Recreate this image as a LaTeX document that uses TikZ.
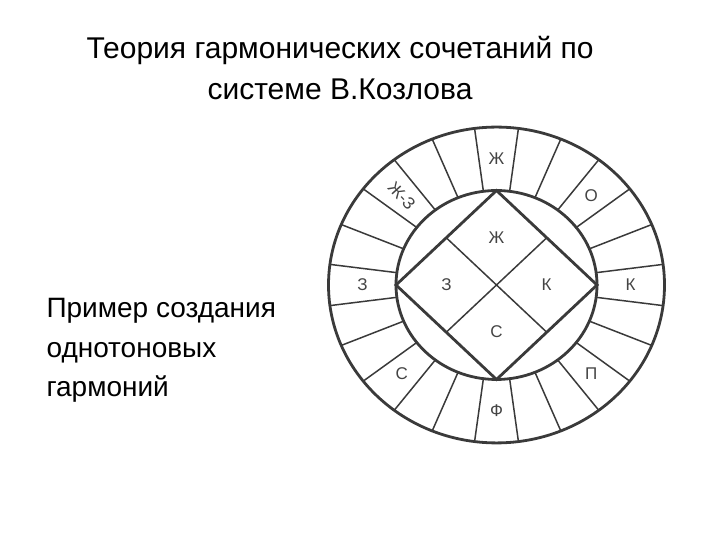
\documentclass[tikz,border=0pt]{standalone}
\usepackage{fontspec}
\setmainfont{Liberation Sans}
\usetikzlibrary{calc}
\definecolor{linegray}{HTML}{3A3A3A}
\definecolor{labelgray}{HTML}{444444}
\tikzset{
  ring/.style={draw=linegray, line width=2.8pt},
  spoke/.style={draw=linegray, line width=1.5pt},
  lbl/.style={font=\fontsize{17}{17}\selectfont, text=labelgray, inner sep=0pt},
  titletext/.style={anchor=base, font=\fontsize{30}{36}\selectfont},
  bodytext/.style={anchor=base west, font=\fontsize{28}{34}\selectfont},
}
\begin{document}
\begin{tikzpicture}[x=1pt,y=1pt]
\useasboundingbox (0,0) rectangle (720,540);
% title
\node[titletext] (title1) at (340,481) {Теория гармонических сочетаний по};
\node[titletext] (title2) at (340,440) {системе В.Козлова};
% text on the left
\node[bodytext] (text1) at (43,222) {Пример создания};
\node[bodytext] (text2) at (43,182) {однотоновых};
\node[bodytext] (text3) at (43,143) {гармоний};
% the circle
\begin{scope}[shift={(496.5,255)}, yscale=0.94]
\draw[ring] (0,0) circle (168);
\draw[ring] (0,0) circle (100.5);
\foreach \k in {0,...,23}
  \draw[spoke] ({7.5+15*\k}:100.5) -- ({7.5+15*\k}:168);
\coordinate (right) at (0:100.5);
\coordinate (top) at (90:100.5);
\coordinate (left) at (180:100.5);
\coordinate (bottom) at (270:100.5);
\draw[spoke] ($(top)!.5!(left)$) -- ($(bottom)!.5!(right)$);
\draw[spoke] ($(top)!.5!(right)$) -- ($(bottom)!.5!(left)$);
\draw[ring, line join=miter] (top) -- (left) -- (bottom) -- (right) -- cycle;
% inner squares
\node[lbl] (inZh) at (0,50) {Ж};
\node[lbl] (inZ) at (-50,0) {З};
\node[lbl] (inK) at (50,0) {К};
\node[lbl] (inS) at (0,-50) {С};
% outer ring
\node[lbl] (outZh) at (90:134) {Ж};
\node[lbl] (outO) at (45:134) {О};
\node[lbl] (outK) at (0:134) {К};
\node[lbl] (outP) at (-45:134) {П};
\node[lbl] (outF) at (-90:134) {Ф};
\node[lbl] (outS) at (-135:134) {С};
\node[lbl] (outZ) at (180:134) {З};
\node[lbl, rotate=-48] (outZhZ) at (135:134) {Ж-З};
\end{scope}
\end{tikzpicture}
\end{document}
